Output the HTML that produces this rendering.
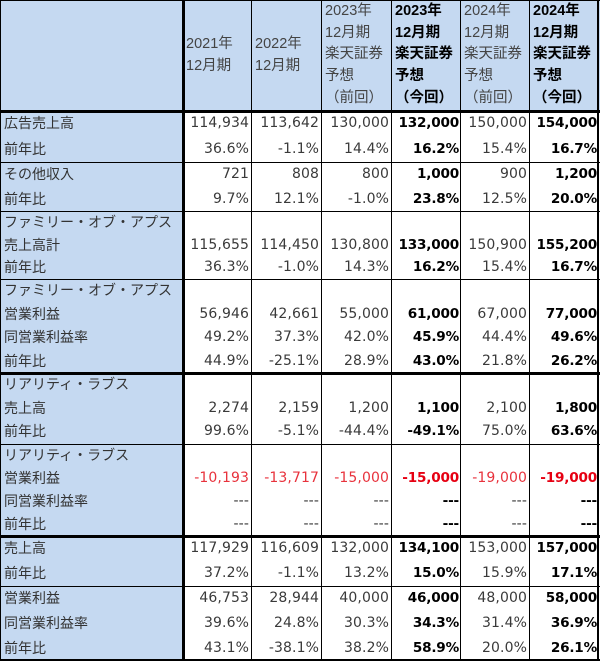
<!DOCTYPE html>
<html><head><meta charset="utf-8">
<style>
body{margin:0;background:#fff;}
#t{position:relative;width:600px;height:661px;overflow:hidden;font-family:"DejaVu Sans","Noto Sans CJK JP",sans-serif;}
.c{position:absolute;box-sizing:border-box;white-space:nowrap;}
.lab{font-family:"Liberation Sans","Noto Sans CJK JP",sans-serif;font-size:14px;color:#333;padding-left:4px;}
.num{font-size:14px;color:#3a3a3a;text-align:right;padding-right:3px;letter-spacing:0.1px;}
.num.b{font-size:13.6px;letter-spacing:-0.2px;padding-right:2px;}
.b{font-weight:bold;color:#000;}
.red{color:#e8323c;}
.b.red{color:#e60012;}
.hd{font-family:"Liberation Sans","Noto Sans CJK JP",sans-serif;font-size:14.5px;color:#444;line-height:21.7px;padding-left:3px;}
.ln{position:absolute;background:#000;}
</style></head><body>
<div id="t"></div>
<script>
const colX=[0,183,252,322,392,461,530,599];
const boldCols=[false,false,false,true,false,true];
const headers=[["","2021年","12月期"],["","2022年","12月期"],["2023年","12月期","楽天証券","予想","（前回）"],["2023年","12月期","楽天証券","予想","（今回）"],["2024年","12月期","楽天証券","予想","（前回）"],["2024年","12月期","楽天証券","予想","（今回）"]];
const groupEdges=[111,162,211,279,373,444,536,586,661];
const thickAfter=[false,false,false,true,false,true,false,false];
const groups=[
 [["広告売上高",["114,934","113,642","130,000","132,000","150,000","154,000"]],["前年比",["36.6%","-1.1%","14.4%","16.2%","15.4%","16.7%"]]],
 [["その他収入",["721","808","800","1,000","900","1,200"]],["前年比",["9.7%","12.1%","-1.0%","23.8%","12.5%","20.0%"]]],
 [["ファミリー・オブ・アプス",null],["売上高計",["115,655","114,450","130,800","133,000","150,900","155,200"]],["前年比",["36.3%","-1.0%","14.3%","16.2%","15.4%","16.7%"]]],
 [["ファミリー・オブ・アプス",null],["営業利益",["56,946","42,661","55,000","61,000","67,000","77,000"]],["同営業利益率",["49.2%","37.3%","42.0%","45.9%","44.4%","49.6%"]],["前年比",["44.9%","-25.1%","28.9%","43.0%","21.8%","26.2%"]]],
 [["リアリティ・ラブス",null],["売上高",["2,274","2,159","1,200","1,100","2,100","1,800"]],["前年比",["99.6%","-5.1%","-44.4%","-49.1%","75.0%","63.6%"]]],
 [["リアリティ・ラブス",null],["営業利益",["-10,193","-13,717","-15,000","-15,000","-19,000","-19,000"],true],["同営業利益率",["---","---","---","---","---","---"]],["前年比",["---","---","---","---","---","---"]]],
 [["売上高",["117,929","116,609","132,000","134,100","153,000","157,000"]],["前年比",["37.2%","-1.1%","13.2%","15.0%","15.9%","17.1%"]]],
 [["営業利益",["46,753","28,944","40,000","46,000","48,000","58,000"]],["同営業利益率",["39.6%","24.8%","30.3%","34.3%","31.4%","36.9%"]],["前年比",["43.1%","-38.1%","38.2%","58.9%","20.0%","26.1%"]]]
];
const T=document.getElementById('t');
function box(cls,x,y,w,h){const d=document.createElement('div');d.className=cls;d.style.left=x+'px';d.style.top=y+'px';d.style.width=w+'px';d.style.height=h+'px';T.appendChild(d);return d;}
let bg=box('c',0,0,600,111);bg.style.background='#c5d9f1';


bg=box('c',0,111,183,550);bg.style.background='#c5d9f1';


headers.forEach((h,i)=>{
 const d=box('c hd'+(boldCols[i]?' b':''),colX[i+1],0,colX[i+2]-colX[i+1],111);
 
 
 d.style.paddingTop=(h[0]===''?'13px':'1px');
 d.innerHTML=h.filter(s=>s).join('<br>');
 if(h[0]==='')d.style.paddingTop='34px';
 if(boldCols[i])d.style.color='#000';
});
groups.forEach((g,gi)=>{
 const y0=groupEdges[gi],y1=groupEdges[gi+1],rh=(y1-y0)/g.length;
 g.forEach((r,ri)=>{
  const y=y0+ri*rh;
  const l=box('c lab',0,y,183,rh);l.style.lineHeight=rh+'px';l.textContent=r[0];
  
  
  if(r[1])r[1].forEach((v,ci)=>{
   const d=box('c num'+(boldCols[ci]?' b':'')+(r[2]?' red':''),colX[ci+1],y,colX[ci+2]-colX[ci+1],rh);
   d.style.lineHeight=rh+'px';d.textContent=v;
   
   
  });
 });
});
function ln(x,y,w,h){const d=document.createElement('div');d.className='ln';d.style.left=x+'px';d.style.top=y+'px';d.style.width=w+'px';d.style.height=h+'px';
 
 
 T.appendChild(d);}
ln(0,0,600,1);ln(0,0,1,661);ln(597,0,2,661);ln(0,659,600,2);
ln(182,0,3,661);
[252,322,392,461,530].forEach(x=>ln(x-1,0,1,661));
ln(0,110,600,3);
groupEdges.slice(1,-1).forEach((y,i)=>{ if(thickAfter[i]||i===5)ln(0,y-1,600,3);else ln(0,y,600,1);});
</script>
</body></html>
